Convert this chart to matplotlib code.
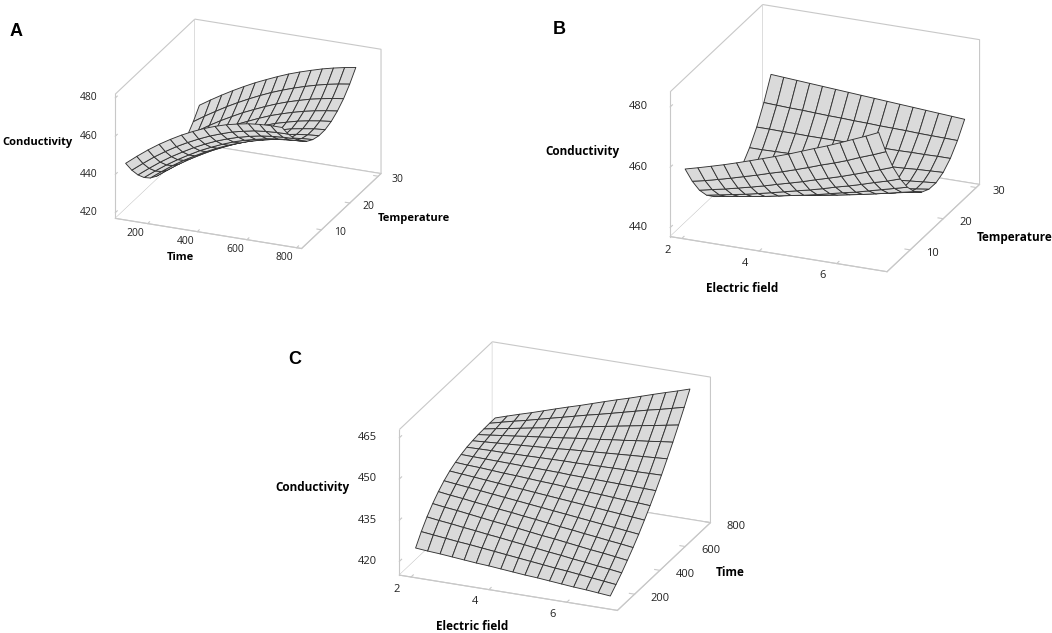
import numpy as np
import matplotlib.pyplot as plt
from mpl_toolkits.mplot3d import proj3d

plt.rcParams['font.family'] = ['Open Sans', 'DejaVu Sans']

# ---- panel A: conductivity vs time (columns) and temperature (rows) ----
a_time = [100, 145, 190, 235, 280, 325, 370, 415, 460, 505, 550, 595, 640, 685, 730]
a_temp = [4, 6.17, 8.33, 10.5, 12.67, 14.83, 17, 19.17, 21.33, 23.5, 25.67, 27.83, 30]
a_cond = [
    [445.0, 449.6, 453.9, 457.8, 461.3, 464.5, 467.3, 469.8, 471.9, 473.7, 475.0, 476.1, 476.7, 477.0, 477.0],
    [438.4, 442.9, 447.2, 451.0, 454.5, 457.6, 460.4, 462.9, 465.0, 466.9, 468.2, 469.4, 470.0, 470.4, 470.5],
    [432.9, 437.3, 441.5, 445.3, 448.7, 451.9, 454.7, 457.2, 459.3, 461.1, 462.5, 463.7, 464.4, 464.9, 465.1],
    [428.5, 432.9, 437.0, 440.7, 444.1, 447.3, 450.0, 452.5, 454.7, 456.5, 457.9, 459.2, 460.0, 460.5, 460.8],
    [425.2, 429.5, 433.6, 437.3, 440.6, 443.7, 446.5, 449.0, 451.1, 453.0, 454.5, 455.8, 456.6, 457.2, 457.6],
    [423.1, 427.3, 431.3, 434.9, 438.2, 441.3, 444.0, 446.5, 448.7, 450.6, 452.1, 453.5, 454.4, 455.1, 455.5],
    [422.0, 426.2, 430.1, 433.7, 437.0, 440.0, 442.7, 445.2, 447.4, 449.3, 450.9, 452.3, 453.3, 454.0, 454.5],
    [422.1, 426.1, 430.0, 433.5, 436.8, 439.8, 442.5, 445.0, 447.2, 449.1, 450.7, 452.2, 453.2, 454.1, 454.6],
    [423.2, 427.2, 431.0, 434.5, 437.7, 440.7, 443.4, 445.9, 448.1, 450.1, 451.7, 453.2, 454.3, 455.2, 455.9],
    [425.5, 429.4, 433.1, 436.6, 439.8, 442.8, 445.4, 447.9, 450.2, 452.1, 453.8, 455.3, 456.5, 457.5, 458.3],
    [428.9, 432.7, 436.4, 439.8, 442.9, 445.9, 448.5, 451.0, 453.3, 455.3, 457.0, 458.6, 459.8, 460.9, 461.7],
    [433.4, 437.2, 440.7, 444.1, 447.2, 450.1, 452.8, 455.3, 457.5, 459.5, 461.3, 462.9, 464.3, 465.4, 466.3],
    [439.0, 442.7, 446.2, 449.5, 452.6, 455.5, 458.1, 460.6, 462.9, 464.9, 466.7, 468.4, 469.8, 471.0, 472.0],
]

# ---- panel B: conductivity vs electric field (columns) and temperature (rows) ----
b_field = [2.0, 2.33, 2.67, 3.0, 3.33, 3.67, 4.0, 4.33, 4.67, 5.0, 5.33, 5.67, 6.0, 6.33, 6.67, 7.0]
b_temp = [4, 6.17, 8.33, 10.5, 12.67, 14.83, 17, 19.17, 21.33, 23.5, 25.67, 27.83, 30]
b_cond = [
    [459.0, 460.1, 461.3, 462.5, 463.8, 465.2, 466.6, 468.0, 469.5, 471.1, 472.7, 474.3, 476.0, 477.8, 479.6, 481.5],
    [452.7, 453.6, 454.7, 455.8, 457.0, 458.2, 459.5, 460.7, 462.1, 463.5, 465.0, 466.4, 467.9, 469.6, 471.2, 472.9],
    [447.5, 448.4, 449.3, 450.3, 451.3, 452.4, 453.6, 454.7, 455.9, 457.2, 458.4, 459.7, 461.1, 462.5, 464.0, 465.5],
    [443.6, 444.4, 445.2, 446.0, 446.9, 447.9, 448.9, 449.9, 450.9, 452.0, 453.2, 454.3, 455.5, 456.8, 458.0, 459.4],
    [440.9, 441.6, 442.3, 443.0, 443.7, 444.6, 445.4, 446.2, 447.1, 448.1, 449.1, 450.0, 451.1, 452.2, 453.3, 454.4],
    [439.5, 440.0, 440.6, 441.2, 441.8, 442.5, 443.2, 443.9, 444.6, 445.4, 446.2, 447.0, 447.9, 448.8, 449.8, 450.7],
    [439.3, 439.7, 440.1, 440.6, 441.1, 441.6, 442.2, 442.7, 443.3, 444.0, 444.6, 445.3, 446.0, 446.7, 447.5, 448.3],
    [440.2, 440.5, 440.8, 441.2, 441.5, 441.9, 442.4, 442.8, 443.2, 443.7, 444.2, 444.7, 445.2, 445.8, 446.4, 447.0],
    [442.4, 442.6, 442.8, 443.0, 443.2, 443.5, 443.8, 444.0, 444.3, 444.7, 445.0, 445.3, 445.7, 446.1, 446.5, 446.9],
    [445.9, 445.9, 446.0, 446.1, 446.2, 446.3, 446.4, 446.6, 446.7, 446.9, 447.1, 447.2, 447.4, 447.7, 447.9, 448.1],
    [450.5, 450.5, 450.4, 450.4, 450.3, 450.3, 450.3, 450.3, 450.3, 450.3, 450.3, 450.3, 450.4, 450.4, 450.5, 450.5],
    [456.4, 456.2, 456.0, 455.9, 455.7, 455.5, 455.4, 455.2, 455.1, 454.9, 454.8, 454.7, 454.5, 454.4, 454.3, 454.2],
    [463.5, 463.2, 462.9, 462.6, 462.3, 462.0, 461.7, 461.4, 461.1, 460.8, 460.5, 460.2, 459.9, 459.6, 459.3, 459.0],
]

# ---- panel C: conductivity vs electric field (columns) and time (rows) ----
c_field = [2.0, 2.31, 2.63, 2.94, 3.25, 3.56, 3.88, 4.19, 4.5, 4.81, 5.13, 5.44, 5.75, 6.06, 6.38, 6.69, 7.0]
c_time = [100, 145, 190, 235, 280, 325, 370, 415, 460, 505, 550, 595, 640, 685, 730]
c_cond = [
    [424.0, 423.6, 423.3, 422.9, 422.5, 422.1, 421.8, 421.4, 421.0, 420.6, 420.3, 419.9, 419.5, 419.1, 418.8, 418.4, 418.0],
    [428.0, 427.5, 427.0, 426.5, 426.1, 425.6, 425.1, 424.6, 424.1, 423.6, 423.1, 422.6, 422.2, 421.7, 421.2, 420.7, 420.2],
    [431.4, 430.8, 430.3, 429.7, 429.2, 428.6, 428.1, 427.5, 427.0, 426.4, 425.8, 425.3, 424.7, 424.2, 423.6, 423.1, 422.5],
    [434.3, 433.7, 433.2, 432.6, 432.0, 431.4, 430.9, 430.3, 429.7, 429.1, 428.6, 428.0, 427.4, 426.8, 426.3, 425.7, 425.1],
    [436.7, 436.1, 435.6, 435.0, 434.5, 433.9, 433.4, 432.8, 432.3, 431.7, 431.1, 430.6, 430.0, 429.5, 428.9, 428.4, 427.8],
    [438.7, 438.2, 437.7, 437.2, 436.7, 436.2, 435.7, 435.2, 434.7, 434.2, 433.7, 433.2, 432.7, 432.2, 431.7, 431.2, 430.7],
    [440.3, 439.9, 439.5, 439.1, 438.7, 438.3, 437.9, 437.5, 437.1, 436.7, 436.3, 435.9, 435.5, 435.1, 434.7, 434.3, 433.9],
    [441.5, 441.2, 441.0, 440.7, 440.4, 440.2, 439.9, 439.6, 439.4, 439.1, 438.8, 438.5, 438.3, 438.0, 437.7, 437.5, 437.2],
    [442.4, 442.3, 442.2, 442.1, 442.0, 441.9, 441.8, 441.7, 441.6, 441.4, 441.3, 441.2, 441.1, 441.0, 440.9, 440.8, 440.7],
    [443.1, 443.2, 443.3, 443.3, 443.4, 443.5, 443.6, 443.7, 443.8, 443.8, 443.9, 444.0, 444.1, 444.2, 444.2, 444.3, 444.4],
    [443.5, 443.8, 444.1, 444.4, 444.7, 445.0, 445.3, 445.6, 446.0, 446.3, 446.6, 446.9, 447.2, 447.5, 447.8, 448.1, 448.4],
    [443.8, 444.3, 444.9, 445.4, 446.0, 446.5, 447.1, 447.6, 448.2, 448.7, 449.2, 449.8, 450.3, 450.9, 451.4, 452.0, 452.5],
    [443.9, 444.7, 445.5, 446.3, 447.1, 447.9, 448.7, 449.5, 450.4, 451.2, 452.0, 452.8, 453.6, 454.4, 455.2, 456.0, 456.8],
    [444.0, 445.1, 446.2, 447.2, 448.3, 449.4, 450.5, 451.6, 452.7, 453.7, 454.8, 455.9, 457.0, 458.1, 459.1, 460.2, 461.3],
    [444.0, 445.4, 446.8, 448.1, 449.5, 450.9, 452.3, 453.6, 455.0, 456.4, 457.8, 459.1, 460.5, 461.9, 463.3, 464.6, 466.0],
]

# axis ticks
time_ticks = [200, 400, 600, 800]
temp_ticks = [10, 20, 30]
field_ticks = [2, 4, 6]
a_cond_ticks = [420, 440, 460, 480]
b_cond_ticks = [440, 460, 480]
c_cond_ticks = [420, 435, 450, 465]

GRID = '#c8c8c8'
W, H = 1052, 633


def px_rect(cx, cy, side):
    # square axes centred on a pixel position (top-left origin)
    return [(cx - side / 2) / W, (H - cy - side / 2) / H, side / W, side / H]


def surface_panel(rect, x, y, z, xlim, ylim, zlim, xt, yt, zt):
    ax = fig.add_axes(rect, projection='3d')
    ax.set_proj_type('ortho')
    ax.view_init(elev=23, azim=-67.5)
    ax.set_box_aspect((1, 1.03, 0.67))
    X, Y = np.meshgrid(x, y)
    ax.plot_surface(X, Y, np.array(z), rstride=1, cstride=1, color='#dadada',
                    edgecolor='#333333', linewidth=0.65, shade=False, antialiased=True)
    ax.set_xlim(*xlim)
    ax.set_ylim(*ylim)
    ax.set_zlim(*zlim)
    ax.set_xticks(xt)
    ax.set_yticks(yt)
    ax.set_zticks(zt)
    ax.set_xticklabels([])
    ax.set_yticklabels([])
    ax.set_zticklabels([])
    ax.grid(False)
    ax.patch.set_alpha(0)
    for axis in (ax.xaxis, ax.yaxis, ax.zaxis):
        axis.set_pane_color((1, 1, 1, 1))
        axis.pane.set_edgecolor(GRID)
        axis.pane.set_linewidth(0.8)
        axis.line.set_color(GRID)
        axis.line.set_linewidth(0.8)
        axis._axinfo['tick']['inward_factor'] = 0.0
        axis._axinfo['tick']['outward_factor'] = 0.3
    ax.zaxis.set_ticks_position('lower')
    ax.tick_params(color=GRID)
    return ax


fig = plt.figure(figsize=(W / 100, H / 100), dpi=100)

axA = surface_panel(px_rect(244, 138, 310), a_time, a_temp, a_cond,
                    (70, 820), (3, 31), (417, 482), time_ticks, temp_ticks, a_cond_ticks)
axB = surface_panel(px_rect(820, 143, 361), b_field, b_temp, b_cond,
                    (1.7, 7.3), (3, 31), (437, 485), field_ticks, temp_ticks, b_cond_ticks)
axC = surface_panel(px_rect(550, 481, 363), c_field, c_time, c_cond,
                    (1.7, 7.3), (64, 800), (415, 468), field_ticks, time_ticks, c_cond_ticks)

fig.canvas.draw()


def to_px(ax, x, y, z):
    x2, y2, _ = proj3d.proj_transform(x, y, z, ax.get_proj())
    return ax.transData.transform((x2, y2))


def tick_labels(ax, size, xoff, yoff, zoff):
    x0, x1 = ax.get_xlim()
    y0, y1 = ax.get_ylim()
    z0, z1 = ax.get_zlim()
    for v in ax.get_xticks():
        px, py = to_px(ax, v, y0, z0)
        fig.text((px + xoff[0]) / W, (py - xoff[1]) / H, f'{v:g}', ha='center', va='center',
                 fontsize=size, color='#222222')
    for v in ax.get_yticks():
        px, py = to_px(ax, x1, v, z0)
        fig.text((px + yoff[0]) / W, (py - yoff[1]) / H, f'{v:g}', ha='left', va='center',
                 fontsize=size, color='#222222')
    for v in ax.get_zticks():
        px, py = to_px(ax, x0, y0, v)
        fig.text((px + zoff[0]) / W, (py - zoff[1]) / H, f'{v:g}', ha='right', va='center',
                 fontsize=size, color='#222222')


tick_labels(axA, 7.5, (-12, 10), (13, 3), (-18, 0))
tick_labels(axB, 8, (-14, 12), (16, 4), (-22, 0))
tick_labels(axC, 8, (-14, 12), (16, 4), (-22, 0))


def label(x, y, s, ha='left', size=8.5, weight='bold', family=None):
    fig.text(x / W, 1 - y / H, s, ha=ha, va='center', fontsize=size,
             fontweight=weight, family=family or ['Open Sans', 'DejaVu Sans'])


# panel letters
label(10, 31, 'A', size=13, family=['Liberation Sans', 'DejaVu Sans'])
label(553, 30, 'B', size=13, family=['Liberation Sans', 'DejaVu Sans'])
label(288, 360, 'C', size=13, family=['Liberation Sans', 'DejaVu Sans'])

# axis titles
label(2, 143, 'Conductivity', size=8)
label(180, 258, 'Time', ha='center', size=8)
label(378, 218, 'Temperature', size=8)
label(545, 151, 'Conductivity')
label(742, 289, 'Electric field', ha='center')
label(977, 237, 'Temperature')
label(275, 487, 'Conductivity')
label(472, 626, 'Electric field', ha='center')
label(730, 572, 'Time', ha='center')

fig.savefig('out.png', dpi=100)
